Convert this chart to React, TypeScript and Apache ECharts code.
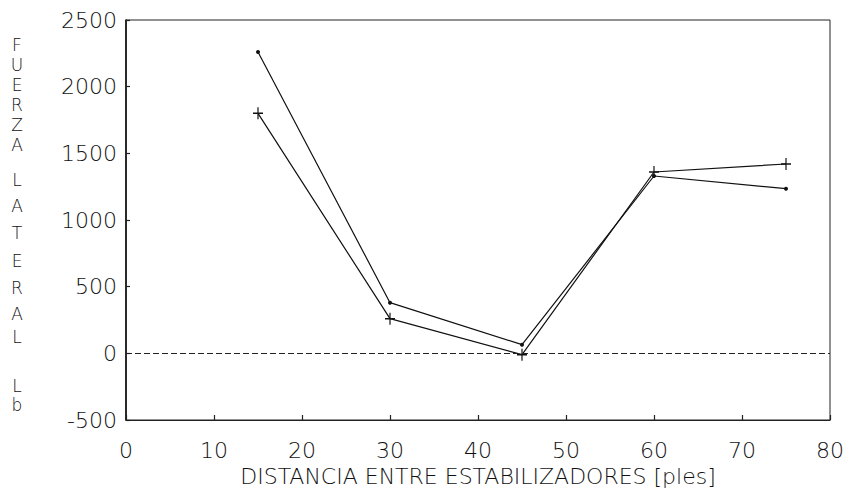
import React, { useEffect, useRef } from "react";
import * as echarts from "echarts";

const distances = [15, 30, 45, 60, 75];
const seriesPlus = [1800, 260, -10, 1360, 1420];
const seriesDot = [2260, 380, 65, 1330, 1235];
const xTicks = [0, 10, 20, 30, 40, 50, 60, 70, 80];
const yTicks = [-500, 0, 500, 1000, 1500, 2000, 2500];
const yTitleLetters = ["F", "U", "E", "R", "Z", "A", "L", "A", "T", "E", "R", "A", "L", "L", "b"];
const xTitle = "DISTANCIA ENTRE ESTABILIZADORES [ples]";

const yTitlePos = [45, 65, 85, 105, 125, 145, 180, 206, 233, 261, 288, 314, 337, 386, 405];

const FONT = "'DejaVu Sans', 'Liberation Sans', sans-serif";

export default function App() {
  const ref = useRef<HTMLDivElement>(null);
  useEffect(() => {
    if (!ref.current) return;
    const chart = echarts.init(ref.current, undefined, { renderer: "svg" });
    const option: any = {
      animation: false,
      backgroundColor: "#ffffff",
      grid: {
        left: 126,
        right: 21,
        top: 20,
        bottom: 69,
        containLabel: false,
        outerBoundsMode: "none",
        show: true,
        borderColor: "#222",
        borderWidth: 1,
        backgroundColor: "transparent",
      },
      xAxis: {
        type: "value",
        min: xTicks[0],
        max: xTicks[xTicks.length - 1],
        interval: 10,
        name: xTitle,
        nameLocation: "middle",
        nameGap: 40,
        nameTextStyle: { fontFamily: FONT, fontSize: 22, lineHeight: 22, fontWeight: 200, color: "#111" },
        axisLine: { show: true, onZero: false, lineStyle: { color: "#222", width: 1.2 } },
        axisTick: { show: true, inside: true, length: 5, lineStyle: { color: "#222", width: 1.2 } },
        axisLabel: {
          margin: 19,
          fontFamily: FONT,
          fontSize: 22,
          fontWeight: 200,
          color: "#111",
          formatter: (v: number) => String(v),
        },
        splitLine: { show: false },
      },
      yAxis: {
        type: "value",
        min: yTicks[0],
        max: yTicks[yTicks.length - 1],
        interval: 500,
        axisLine: { show: true, onZero: false, lineStyle: { color: "#111", width: 1.6 } },
        axisTick: { show: true, inside: true, length: 4, lineStyle: { color: "#222", width: 1.2 } },
        axisLabel: {
          margin: 9,
          fontFamily: FONT,
          fontSize: 22,
          fontWeight: 200,
          color: "#111",
          formatter: (v: number) => String(v),
        },
        splitLine: { show: false },
      },
      graphic: yTitleLetters.map((ch, i) => ({
        type: "text",
        x: 17,
        y: yTitlePos[i],
        style: {
          text: ch,
          fontFamily: FONT,
          fontSize: 17,
          fontWeight: 200,
          fill: "#111",
          align: "center",
          verticalAlign: "middle",
        },
      })),
      series: [
        {
          type: "line",
          data: distances.map((d, i) => [d, seriesPlus[i]]),
          symbol: "path://M0,-6L0,6M-5,0L5,0",
          symbolSize: [10, 12],
          showSymbol: true,
          itemStyle: { color: "none", borderColor: "#111", borderWidth: 1.3 },
          lineStyle: { color: "#111", width: 1.2 },
          markLine: {
            silent: true,
            symbol: "none",
            label: { show: false },
            lineStyle: { color: "#222", width: 1.2, type: [6, 3] },
            data: [{ yAxis: 0 }],
          },
          z: 3,
        },
        {
          type: "line",
          data: distances.map((d, i) => [d, seriesDot[i]]),
          symbol: "circle",
          symbolSize: 4,
          showSymbol: true,
          itemStyle: { color: "#111" },
          lineStyle: { color: "#111", width: 1.2 },
          z: 3,
        },
      ],
    };
    chart.setOption(option);
    return () => chart.dispose();
  }, []);
  return (
    <div
      ref={ref}
      style={{ position: "absolute", left: 0, top: 0, width: 851, height: 489, background: "#fff" }}
    />
  );
}
